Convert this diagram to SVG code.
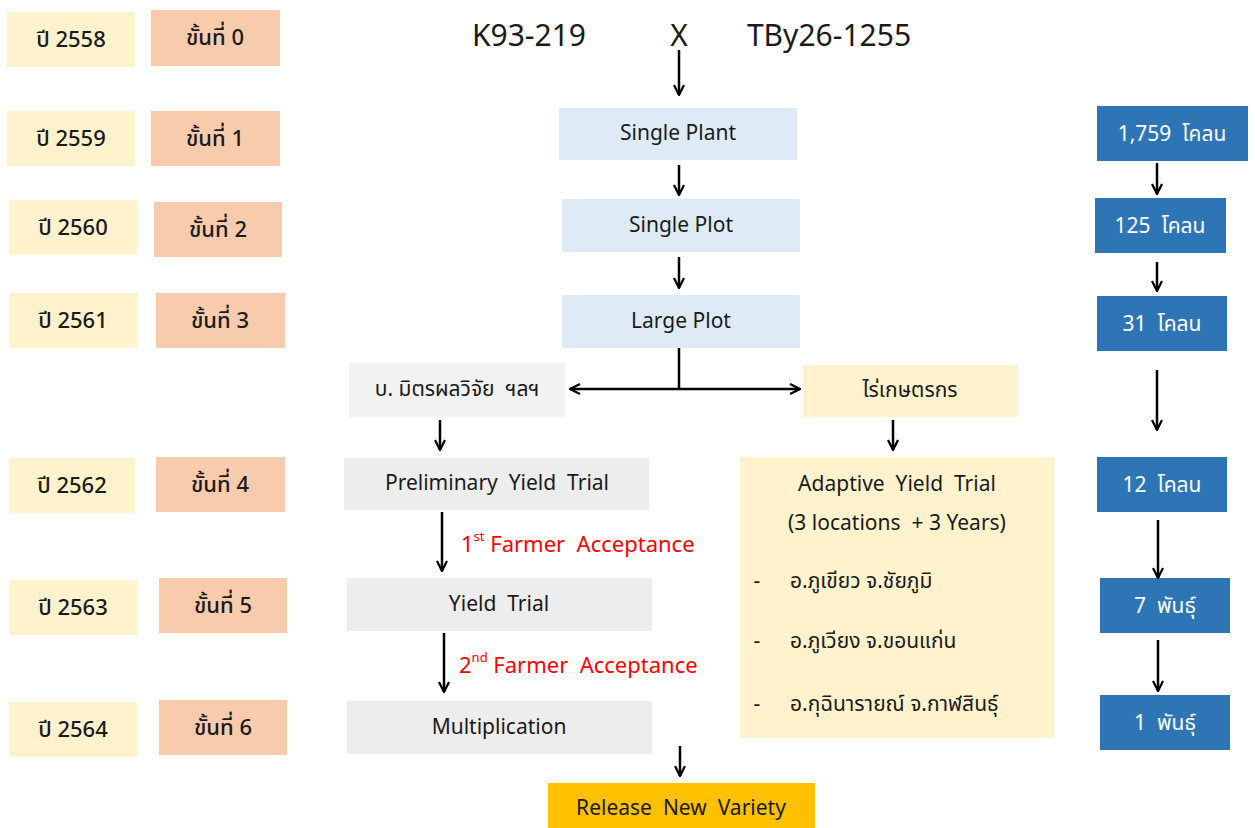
<svg xmlns="http://www.w3.org/2000/svg" width="1255" height="828" viewBox="0 0 1255 828">
<style>
text{font-family:"Noto Sans Thai","Tahoma","Noto Sans","DejaVu Sans",sans-serif;font-size:21px;fill:#1a1a1a;text-anchor:middle;dominant-baseline:central;white-space:pre}
.lb{font-weight:500;font-size:22px}
.yr{fill:#FFF2CC}
.st{fill:#F8CBAD}
.bl{fill:#DEEBF7}
.gr{fill:#EDEDED}
.gr2{fill:#F2F2F2}
.bb{fill:#2E75B6}
.wt{fill:#fff}
.red{fill:#FF0000;text-anchor:start;font-size:22px}
.big{font-size:30px}
.ln{stroke:#000;stroke-width:2.5;fill:none}
</style>
<defs>
<marker id="ah" viewBox="0 0 12 12" refX="11" refY="6" markerWidth="12" markerHeight="12" markerUnits="userSpaceOnUse" orient="auto-start-reverse">
<path d="M1,1 L11,6 L1,11" fill="none" stroke="#000" stroke-width="2.2"/>
</marker>
</defs>

<g id="years">
<g id="y2558"><rect class="yr" x="7" y="12" width="128" height="55"/><text class="lb" x="71" y="40">ปี 2558</text></g>
<g id="y2559"><rect class="yr" x="7" y="111" width="128" height="55"/><text class="lb" x="71" y="139">ปี 2559</text></g>
<g id="y2560"><rect class="yr" x="9" y="200" width="128" height="55"/><text class="lb" x="73" y="228">ปี 2560</text></g>
<g id="y2561"><rect class="yr" x="9" y="293" width="128" height="55"/><text class="lb" x="73" y="321">ปี 2561</text></g>
<g id="y2562"><rect class="yr" x="9" y="458" width="126" height="55"/><text class="lb" x="72" y="486">ปี 2562</text></g>
<g id="y2563"><rect class="yr" x="9" y="580" width="128" height="55"/><text class="lb" x="73" y="608">ปี 2563</text></g>
<g id="y2564"><rect class="yr" x="9" y="702" width="128" height="55"/><text class="lb" x="73" y="730">ปี 2564</text></g>
</g>

<g id="stages">
<g id="s0"><rect class="st" x="151" y="10" width="129" height="56"/><text class="lb" x="215" y="38">ขั้นที่ 0</text></g>
<g id="s1"><rect class="st" x="151" y="111" width="129" height="55"/><text class="lb" x="215" y="139">ขั้นที่ 1</text></g>
<g id="s2"><rect class="st" x="154" y="202" width="128" height="55"/><text class="lb" x="218" y="230">ขั้นที่ 2</text></g>
<g id="s3"><rect class="st" x="156" y="293" width="129" height="55"/><text class="lb" x="220" y="321">ขั้นที่ 3</text></g>
<g id="s4"><rect class="st" x="156" y="457" width="129" height="55"/><text class="lb" x="220" y="485">ขั้นที่ 4</text></g>
<g id="s5"><rect class="st" x="159" y="578" width="128" height="55"/><text class="lb" x="223" y="606">ขั้นที่ 5</text></g>
<g id="s6"><rect class="st" x="159" y="700" width="128" height="55"/><text class="lb" x="223" y="728">ขั้นที่ 6</text></g>
</g>

<g id="cross">
<text class="big" x="529" y="37">K93-219</text>
<text class="big" x="679" y="37">X</text>
<text class="big" x="829" y="37">TBy26-1255</text>
</g>

<g id="single-plant"><rect class="bl" x="559" y="108" width="238" height="52"/><text x="678" y="133">Single Plant</text></g>
<g id="single-plot"><rect class="bl" x="562" y="199" width="238" height="53"/><text x="681" y="225">Single Plot</text></g>
<g id="large-plot"><rect class="bl" x="562" y="295" width="238" height="53"/><text x="681" y="321">Large Plot</text></g>
<g id="mitrphol"><rect class="gr2" x="349" y="363" width="216" height="54"/><text x="457" y="389">บ. มิตรผลวิจัย  ฯลฯ</text></g>
<g id="farmer"><rect class="yr" x="803" y="365" width="215" height="52"/><text x="910" y="390">ไร่เกษตรกร</text></g>
<g id="pyt"><rect class="gr" x="344" y="458" width="305" height="52"/><text x="497" y="483">Preliminary  Yield  Trial</text></g>
<g id="yt"><rect class="gr" x="347" y="578" width="305" height="53"/><text x="499" y="604">Yield  Trial</text></g>
<g id="mult"><rect class="gr" x="347" y="701" width="305" height="53"/><text x="499" y="727">Multiplication</text></g>
<g id="release"><rect fill="#FFC000" x="548" y="783" width="267" height="45"/><text x="681" y="808">Release  New  Variety</text></g>
<g id="ayt">
<rect class="yr" x="740" y="457" width="314" height="281"/>
<text x="897" y="484">Adaptive  Yield  Trial</text>
<text x="897" y="523">(3 locations  + 3 Years)</text>
<text x="757" y="581">-</text><text x="790" y="581" style="text-anchor:start">อ.ภูเขียว จ.ชัยภูมิ</text>
<text x="757" y="641">-</text><text x="790" y="641" style="text-anchor:start">อ.ภูเวียง จ.ขอนแก่น</text>
<text x="757" y="704">-</text><text x="790" y="704" style="text-anchor:start">อ.กุฉินารายณ์ จ.กาฬสินธุ์</text>
</g>

<g id="counts">
<g id="c1"><rect class="bb" x="1097" y="106" width="151" height="55"/><text class="wt" x="1172" y="134">1,759  โคลน</text></g>
<g id="c2"><rect class="bb" x="1095" y="198" width="131" height="55"/><text class="wt" x="1160" y="226">125  โคลน</text></g>
<g id="c3"><rect class="bb" x="1097" y="296" width="130" height="55"/><text class="wt" x="1162" y="324">31  โคลน</text></g>
<g id="c4"><rect class="bb" x="1097" y="457" width="130" height="55"/><text class="wt" x="1162" y="485">12  โคลน</text></g>
<g id="c5"><rect class="bb" x="1100" y="578" width="130" height="55"/><text class="wt" x="1165" y="606">7  พันธุ์</text></g>
<g id="c6"><rect class="bb" x="1100" y="695" width="130" height="55"/><text class="wt" x="1165" y="723">1  พันธุ์</text></g>
</g>

<g id="labels">
<text class="red" x="461" y="545">1<tspan font-size="13" dy="-8">st</tspan><tspan dy="8"> Farmer  Acceptance</tspan></text>
<text class="red" x="459" y="666">2<tspan font-size="13" dy="-8">nd</tspan><tspan dy="8"> Farmer  Acceptance</tspan></text>
</g>

<g id="connectors">
<line class="ln" x1="679" y1="50" x2="679" y2="95" marker-end="url(#ah)"/>
<line class="ln" x1="679" y1="165" x2="679" y2="195" marker-end="url(#ah)"/>
<line class="ln" x1="679" y1="257" x2="679" y2="288" marker-end="url(#ah)"/>
<line class="ln" x1="679" y1="348" x2="679" y2="389"/>
<line class="ln" x1="570" y1="389" x2="800" y2="389" marker-start="url(#ah)" marker-end="url(#ah)"/>
<line class="ln" x1="440" y1="420" x2="440" y2="450" marker-end="url(#ah)"/>
<line class="ln" x1="893" y1="420" x2="893" y2="450" marker-end="url(#ah)"/>
<line class="ln" x1="442" y1="512" x2="442" y2="571" marker-end="url(#ah)"/>
<line class="ln" x1="444" y1="633" x2="444" y2="692" marker-end="url(#ah)"/>
<line class="ln" x1="680" y1="746" x2="680" y2="776" marker-end="url(#ah)"/>
<line class="ln" x1="1157" y1="163" x2="1157" y2="194" marker-end="url(#ah)"/>
<line class="ln" x1="1157" y1="262" x2="1157" y2="291" marker-end="url(#ah)"/>
<line class="ln" x1="1157" y1="370" x2="1157" y2="430" marker-end="url(#ah)"/>
<line class="ln" x1="1158" y1="520" x2="1158" y2="578" marker-end="url(#ah)"/>
<line class="ln" x1="1158" y1="640" x2="1158" y2="691" marker-end="url(#ah)"/>
</g>
</svg>
